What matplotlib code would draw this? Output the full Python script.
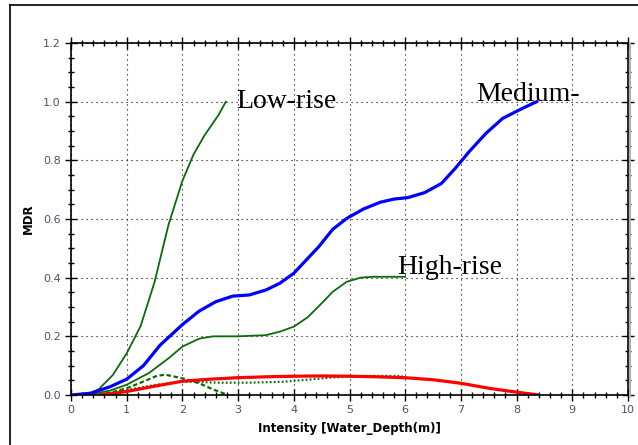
import numpy as np
import matplotlib.pyplot as plt
from matplotlib.lines import Line2D
from matplotlib.ticker import MultipleLocator

# courbes
low_x = [0, 0.3, 0.5, 0.75, 1.0, 1.25, 1.5, 1.75, 2.0, 2.2, 2.4, 2.65, 2.78]
low_y = [0, 0, 0.02, 0.068, 0.142, 0.235, 0.385, 0.58, 0.73, 0.82, 0.886, 0.955, 1.0]

med_x = [0, 0.35, 0.7, 1.0, 1.3, 1.6, 2.0, 2.3, 2.6, 2.9, 3.2, 3.5, 3.75, 4.0, 4.45, 4.7,
         4.95, 5.25, 5.55, 5.8, 6.05, 6.35, 6.65, 6.9, 7.15, 7.45, 7.75, 8.05, 8.36]
med_y = [0, 0.006, 0.028, 0.054, 0.10, 0.17, 0.24, 0.286, 0.318, 0.337, 0.341, 0.358, 0.381,
         0.415, 0.506, 0.565, 0.602, 0.634, 0.657, 0.668, 0.673, 0.69, 0.721, 0.773, 0.83,
         0.892, 0.943, 0.972, 1.0]

high_x = [0, 0.35, 0.7, 1.0, 1.4, 1.75, 2.0, 2.3, 2.55, 3.0, 3.5, 3.75, 4.0, 4.25, 4.45,
          4.7, 4.95, 5.2, 5.4, 6.0]
high_y = [0, 0.002, 0.015, 0.035, 0.075, 0.125, 0.165, 0.192, 0.2, 0.2, 0.204, 0.216, 0.233,
          0.265, 0.303, 0.352, 0.386, 0.4, 0.403, 0.403]

red_x = [0.5, 0.75, 1.0, 1.5, 2.0, 2.5, 3.0, 3.5, 4.0, 4.5, 5.0, 5.5, 6.0, 6.5, 7.0, 7.5, 7.95, 8.4]
red_y = [0, 0.005, 0.012, 0.03, 0.047, 0.054, 0.059, 0.062, 0.064, 0.065, 0.064, 0.062, 0.059,
         0.052, 0.04, 0.023, 0.011, 0.0]

dash_x = [0.5, 0.75, 1.0, 1.25, 1.55, 1.7, 2.0, 2.3, 2.55, 2.78]
dash_y = [0, 0.01, 0.023, 0.042, 0.066, 0.069, 0.057, 0.04, 0.019, 0.003]

dot_x = [0.5, 0.75, 1.0, 1.5, 1.95, 2.2, 2.65, 3.2, 3.8, 4.3, 4.7, 5.35, 5.95]
dot_y = [0, 0.008, 0.017, 0.034, 0.045, 0.045, 0.042, 0.042, 0.045, 0.053, 0.06, 0.065, 0.065]

green = '#0b6b0b'
tick_col = '#505070'

fig = plt.figure(figsize=(6.38, 4.45), dpi=100)
ax = fig.add_axes([71/638, 50/445, 557/638, 352/445])

ax.plot(low_x, low_y, color=green, lw=1.3)
ax.plot(high_x, high_y, color=green, lw=1.3)
ax.plot(dash_x, dash_y, color=green, lw=1.6, ls=(0, (2, 1.2)))
ax.plot(dot_x, dot_y, color=green, lw=1.6, ls=(0, (0.8, 1.0)))
ax.plot(red_x, red_y, color='#ff0000', lw=2.3, solid_capstyle='butt')
ax.plot(med_x, med_y, color='#0000ff', lw=2.3)

ax.set_xlim(0, 10)
ax.set_ylim(0, 1.2)
ax.xaxis.set_major_locator(MultipleLocator(1))
ax.xaxis.set_minor_locator(MultipleLocator(0.2))
ax.yaxis.set_major_locator(MultipleLocator(0.2))
ax.yaxis.set_minor_locator(MultipleLocator(0.05))
ax.xaxis.set_major_formatter(lambda v, p: '%d' % round(v))
ax.yaxis.set_major_formatter(lambda v, p: '%.1f' % v)

ax.grid(True, which='major', color='black', ls=(0, (1, 3.5)), lw=0.8)
ax.tick_params(which='both', direction='inout', top=True, right=True,
               labelsize=8, labelcolor=tick_col, color='black')
ax.tick_params(which='major', length=8, width=1)
ax.tick_params(which='minor', length=5, width=1)
for s in ax.spines.values():
    s.set_linewidth(1.2)

ax.set_xlabel('Intensity [Water_Depth(m)]', fontsize=8.5, fontweight='bold', labelpad=5)
ax.set_ylabel('MDR', fontsize=8.5, fontweight='bold', labelpad=6)

ax.text(2.97, 1.0, 'Low-rise', family='Liberation Serif', fontsize=20, va='center')
ax.text(7.27, 1.025, 'Medium-', family='Liberation Serif', fontsize=20, va='center')
ax.text(5.85, 0.433, 'High-rise', family='Liberation Serif', fontsize=20, va='center')

# cadre extérieur et ombre du bord droit
fig.add_artist(Line2D([10/638, 10/638], [0, 1 - 5/445], color='black', lw=1.2))
fig.add_artist(Line2D([10/638, 1], [1 - 5/445, 1 - 5/445], color='black', lw=1.2))
fig.add_artist(Line2D([630/638, 630/638], [48/445, 402/445], color='#b0b0b0', lw=1.5))

fig.savefig('out.png', dpi=100)
